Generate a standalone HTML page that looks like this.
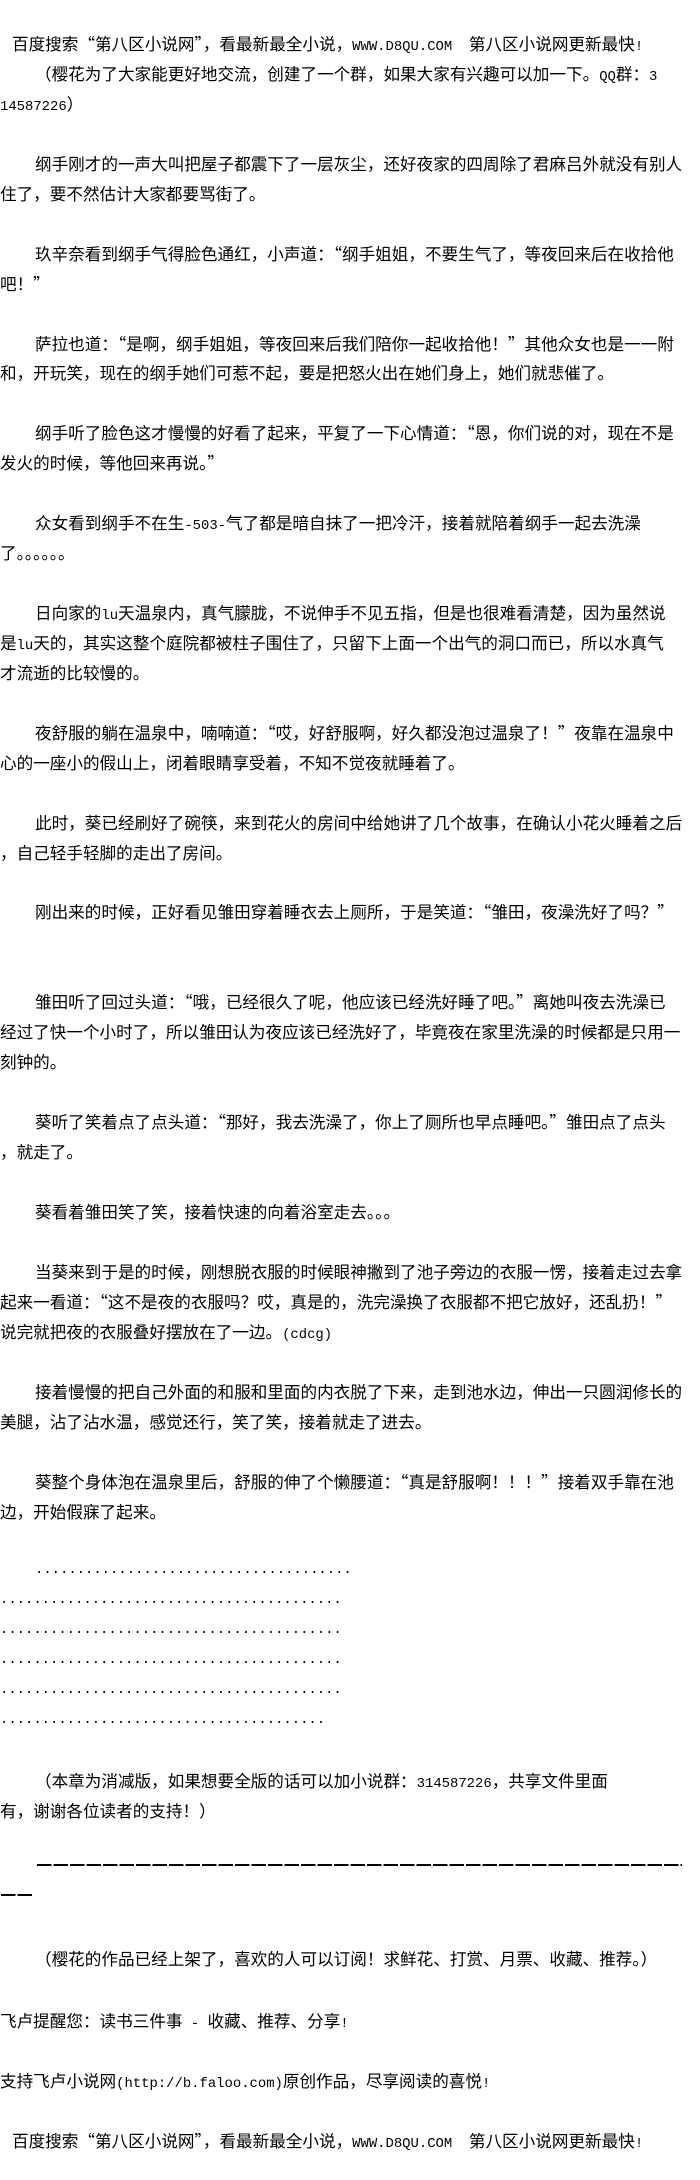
<!DOCTYPE html>
<html><head><meta charset="utf-8">
<style>
html,body{margin:0;padding:0;background:#fff;}
body{width:700px;height:2180px;position:relative;overflow:hidden;color:#000;
font-family:"Noto Sans CJK SC","WenQuanYi Zen Hei",sans-serif;font-size:16.6px;}
.l{position:absolute;left:0;height:30px;line-height:30px;white-space:pre;}
.i{left:35px;}
.m{font-family:"Liberation Mono",monospace;font-size:13.9px;}
.dash{position:absolute;height:1.5px;background:repeating-linear-gradient(90deg,#000 0 14.7px,transparent 14.7px 16.5px);}
</style></head><body>
<div class="l" style="top:28px;left:12px">百度搜索“第八区小说网”，看最新最全小说，<span class="m">WWW.D8QU.COM  </span>第八区小说网更新最快<span class="m">!</span></div>
<div class="l i" style="top:58px">（樱花为了大家能更好地交流，创建了一个群，如果大家有兴趣可以加一下。<span class="m">QQ</span>群：<span class="m">3</span></div>
<div class="l" style="top:88px"><span class="m">14587226</span>）</div>

<div class="l i" style="top:148px">纲手刚才的一声大叫把屋子都震下了一层灰尘，还好夜家的四周除了君麻吕外就没有别人</div>
<div class="l" style="top:178px">住了，要不然估计大家都要骂街了。</div>

<div class="l i" style="top:238px">玖辛奈看到纲手气得脸色通红，小声道：“纲手姐姐，不要生气了，等夜回来后在收拾他</div>
<div class="l" style="top:268px">吧！”</div>

<div class="l i" style="top:328px">萨拉也道：“是啊，纲手姐姐，等夜回来后我们陪你一起收拾他！”其他众女也是一一附</div>
<div class="l" style="top:357px">和，开玩笑，现在的纲手她们可惹不起，要是把怒火出在她们身上，她们就悲催了。</div>

<div class="l i" style="top:417px">纲手听了脸色这才慢慢的好看了起来，平复了一下心情道：“恩，你们说的对，现在不是</div>
<div class="l" style="top:447px">发火的时候，等他回来再说。”</div>

<div class="l i" style="top:507px">众女看到纲手不在生<span class="m">-503-</span>气了都是暗自抹了一把冷汗，接着就陪着纲手一起去洗澡</div>
<div class="l" style="top:537px">了。。。。。。</div>

<div class="l i" style="top:597px">日向家的<span class="m">lu</span>天温泉内，真气朦胧，不说伸手不见五指，但是也很难看清楚，因为虽然说</div>
<div class="l" style="top:627px">是<span class="m">lu</span>天的，其实这整个庭院都被柱子围住了，只留下上面一个出气的洞口而已，所以水真气</div>
<div class="l" style="top:657px">才流逝的比较慢的。</div>

<div class="l i" style="top:717px">夜舒服的躺在温泉中，喃喃道：“哎，好舒服啊，好久都没泡过温泉了！”夜靠在温泉中</div>
<div class="l" style="top:747px">心的一座小的假山上，闭着眼睛享受着，不知不觉夜就睡着了。</div>

<div class="l i" style="top:807px">此时，葵已经刷好了碗筷，来到花火的房间中给她讲了几个故事，在确认小花火睡着之后</div>
<div class="l" style="top:837px">，自己轻手轻脚的走出了房间。</div>

<div class="l i" style="top:896px">刚出来的时候，正好看见雏田穿着睡衣去上厕所，于是笑道：“雏田，夜澡洗好了吗？”</div>

<div class="l i" style="top:986px">雏田听了回过头道：“哦，已经很久了呢，他应该已经洗好睡了吧。”离她叫夜去洗澡已</div>
<div class="l" style="top:1016px">经过了快一个小时了，所以雏田认为夜应该已经洗好了，毕竟夜在家里洗澡的时候都是只用一</div>
<div class="l" style="top:1046px">刻钟的。</div>

<div class="l i" style="top:1106px">葵听了笑着点了点头道：“那好，我去洗澡了，你上了厕所也早点睡吧。”雏田点了点头</div>
<div class="l" style="top:1136px">，就走了。</div>

<div class="l i" style="top:1196px">葵看着雏田笑了笑，接着快速的向着浴室走去。。。</div>

<div class="l i" style="top:1256px">当葵来到于是的时候，刚想脱衣服的时候眼神撇到了池子旁边的衣服一愣，接着走过去拿</div>
<div class="l" style="top:1286px">起来一看道：“这不是夜的衣服吗？哎，真是的，洗完澡换了衣服都不把它放好，还乱扔！”</div>
<div class="l" style="top:1316px">说完就把夜的衣服叠好摆放在了一边。<span class="m">(cdcg)</span></div>

<div class="l i" style="top:1376px">接着慢慢的把自己外面的和服和里面的内衣脱了下来，走到池水边，伸出一只圆润修长的</div>
<div class="l" style="top:1406px">美腿，沾了沾水温，感觉还行，笑了笑，接着就走了进去。</div>

<div class="l i" style="top:1466px">葵整个身体泡在温泉里后，舒服的伸了个懒腰道：“真是舒服啊！！！”接着双手靠在池</div>
<div class="l" style="top:1496px">边，开始假寐了起来。</div>

<div class="l i m" style="top:1555px">......................................</div>
<div class="l m" style="top:1585px">.........................................</div>
<div class="l m" style="top:1615px">.........................................</div>
<div class="l m" style="top:1645px">.........................................</div>
<div class="l m" style="top:1675px">.........................................</div>
<div class="l m" style="top:1705px">.......................................</div>

<div class="l i" style="top:1765px">（本章为消减版，如果想要全版的话可以加小说群：<span class="m">314587226</span>，共享文件里面</div>
<div class="l" style="top:1795px">有，谢谢各位读者的支持！）</div>

<div class="dash" style="top:1864px;left:37px;width:645px"></div>
<div class="dash" style="top:1894px;left:1px;width:32px"></div>

<div class="l i" style="top:1943px">（樱花的作品已经上架了，喜欢的人可以订阅！求鲜花、打赏、月票、收藏、推荐。）</div>

<div class="l" style="top:2005px">飞卢提醒您：读书三件事<span class="m"> - </span>收藏、推荐、分享<span class="m">!</span></div>

<div class="l" style="top:2065px">支持飞卢小说网<span class="m">(http://b.faloo.com)</span>原创作品，尽享阅读的喜悦<span class="m">!</span></div>

<div class="l" style="top:2125px;left:12px">百度搜索“第八区小说网”，看最新最全小说，<span class="m">WWW.D8QU.COM  </span>第八区小说网更新最快<span class="m">!</span></div>
</body></html>
